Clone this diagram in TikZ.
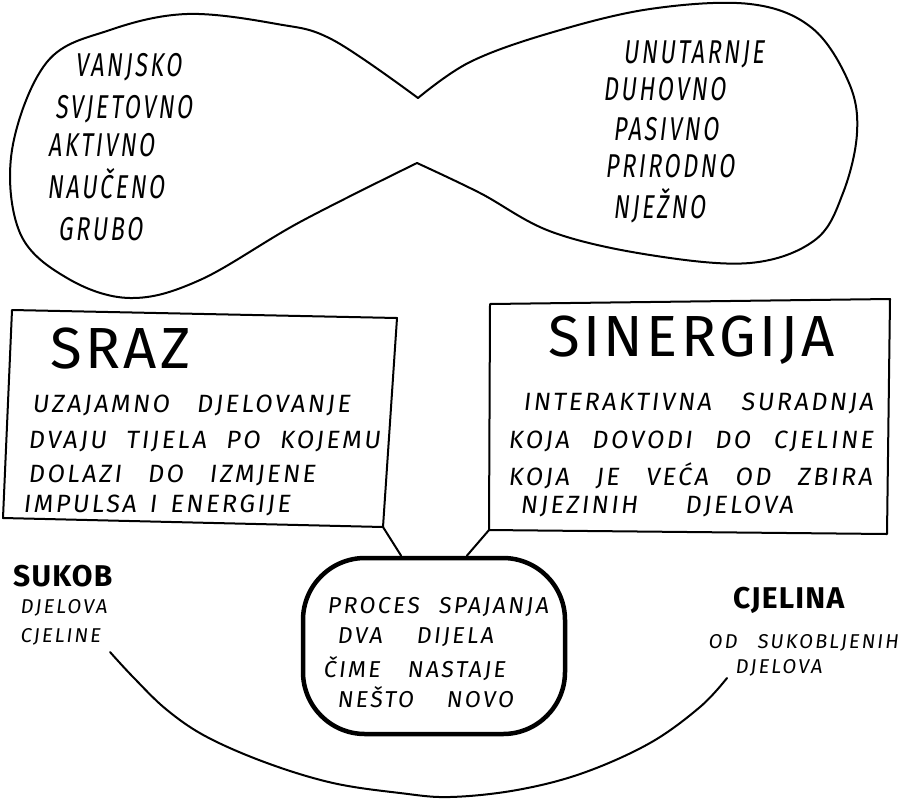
\documentclass[tikz,border=0pt]{standalone}
\usepackage{fontspec}
\setmainfont{Fira Sans}
\newfontfamily\handn{Fira Sans}[FakeSlant=0.12, FakeStretch=0.7, LetterSpace=8]
\newfontfamily\handw{Fira Sans}[FakeSlant=0.12, LetterSpace=10]
\newfontfamily\hands{Fira Sans}[FakeSlant=0.12, LetterSpace=10]
\newfontfamily\handup{Fira Sans}[LetterSpace=6]
\newfontfamily\handbf{Fira Sans}[LetterSpace=4]
\newcommand\fitline[2]{\makebox[#1][s]{#2}}
\begin{document}
\begin{tikzpicture}[x=1pt,y=-1pt,
  stroke/.style={line width=2pt, line cap=round, line join=round},
  listitem/.style={anchor=base west, inner sep=0pt, font=\handn\fontsize{33}{33}\selectfont},
  boxtext/.style={anchor=base west, inner sep=0pt, font=\handw\fontsize{25}{25}\selectfont},
  smalltext/.style={anchor=base west, inner sep=0pt, font=\hands\fontsize{20}{20}\selectfont},
  midtext/.style={anchor=base west, inner sep=0pt, font=\handw\fontsize{23}{23}\selectfont},
  title/.style={anchor=base west, inner sep=0pt, font=\handup\fontsize{58}{58}\selectfont},
  boldlabel/.style={anchor=base west, inner sep=0pt, font=\handbf\bfseries\fontsize{30}{30}\selectfont},
  procbox/.style={draw, line width=4.5pt, rounded corners=62pt, minimum width=262pt, minimum height=176pt, inner sep=0pt}
]
\useasboundingbox (0,0) rectangle (901,798);

% ---------- figure-eight ----------
\coordinate (cusptop) at (418,98);
\coordinate (cuspbot) at (417,163);
\draw[stroke] plot[smooth, tension=0.6] coordinates {(cusptop) (333,40) (277,24) (187,14) (110,30) (47,62) (12,150) (20,233) (67,278) (130,298) (200,280) (300,222) (cuspbot)};
\draw[stroke] plot[smooth, tension=0.6] coordinates {(cusptop) (470,62) (550,33) (650,9) (750,4) (812,28) (849,83) (857,133) (843,193) (815,240) (750,263) (650,255) (552,232) (480,193) (cuspbot)};

\node[listitem] (l1) at (75,76) {VANJSKO};
\node[listitem] (l2) at (55,118) {SVJETOVNO};
\node[listitem] (l3) at (48,156) {AKTIVNO};
\node[listitem] (l4) at (47,198) {NAUČENO};
\node[listitem] (l5) at (58,240) {GRUBO};

\node[listitem] (r1) at (623,63) {UNUTARNJE};
\node[listitem] (r2) at (603,100) {DUHOVNO};
\node[listitem] (r3) at (613,140) {PASIVNO};
\node[listitem] (r4) at (605,177) {PRIRODNO};
\node[listitem] (r5) at (613,218) {NJEŽNO};

% ---------- SRAZ box ----------
\coordinate (sa) at (12,310);
\coordinate (sb) at (397,318);
\coordinate (sc) at (383,527);
\coordinate (sd) at (3,518);
\draw[stroke] (sa) -- (sb) -- (sc) -- (sd) -- cycle;
\node[title] (sraz) at (50,368) {SRAZ};
\node[boxtext] (s1) at (32,412) {\fitline{318pt}{UZAJAMNO DJELOVANJE}};
\node[boxtext] (s2) at (28,448) {\fitline{352pt}{DVAJU TIJELA PO KOJEMU}};
\node[boxtext] (s3) at (28,482) {\fitline{287pt}{DOLAZI DO IZMJENE}};
\node[boxtext] (s4) at (23,512) {\fitline{267pt}{IMPULSA I ENERGIJE}};

% ---------- SINERGIJA box ----------
\coordinate (na) at (490,304);
\coordinate (nb) at (890,299);
\coordinate (nc) at (887,534);
\coordinate (nd) at (489,530);
\draw[stroke] (na) -- (nb) -- (nc) -- (nd) -- cycle;
\node[title] (sin) at (548,356) {SINERGIJA};
\node[boxtext] (n1) at (523,410) {\fitline{350pt}{INTERAKTIVNA SURADNJA}};
\node[boxtext] (n2) at (508,448) {\fitline{365pt}{KOJA DOVODI DO CJELINE}};
\node[boxtext] (n3) at (508,485) {\fitline{364pt}{KOJA JE VEĆA OD ZBIRA}};
\node[boxtext] (n4) at (520,513) {\fitline{273pt}{NJEZINIH DJELOVA}};

% ---------- process ----------
\node[procbox] (proc) at (434,646) {};
\node[midtext] (p1) at (327,613) {\fitline{221pt}{PROCES SPAJANJA}};
\node[midtext] (p2) at (337,643) {\fitline{156pt}{DVA DIJELA}};
\node[midtext] (p3) at (323,677) {\fitline{182pt}{ČIME NASTAJE}};
\node[midtext] (p4) at (337,707) {\fitline{176pt}{NEŠTO NOVO}};
\draw[stroke] (sc) -- (proc.110);
\draw[stroke] (nd) -- (proc.70);

% ---------- SUKOB / CJELINA ----------
\node[boldlabel] (sukob) at (13,586) {SUKOB};
\node[smalltext] (k1) at (20,613) {DJELOVA};
\node[smalltext] (k2) at (20,642) {CJELINE};

\node[boldlabel] (cjel) at (733,608) {CJELINA};
\node[smalltext] (c1) at (708,648) {\fitline{190pt}{OD SUKOBLJENIH}};
\node[smalltext] (c2) at (735,673) {DJELOVA};

\coordinate (sukend) at (110,652);
\coordinate (cjelend) at (727,678);
\draw[stroke] plot[smooth, tension=0.6] coordinates {(sukend) (134,678) (167,710) (207,737) (267,763) (333,783) (400,793) (450,797) (517,790) (583,773) (650,743) (700,707) (cjelend)};
\end{tikzpicture}
\end{document}
